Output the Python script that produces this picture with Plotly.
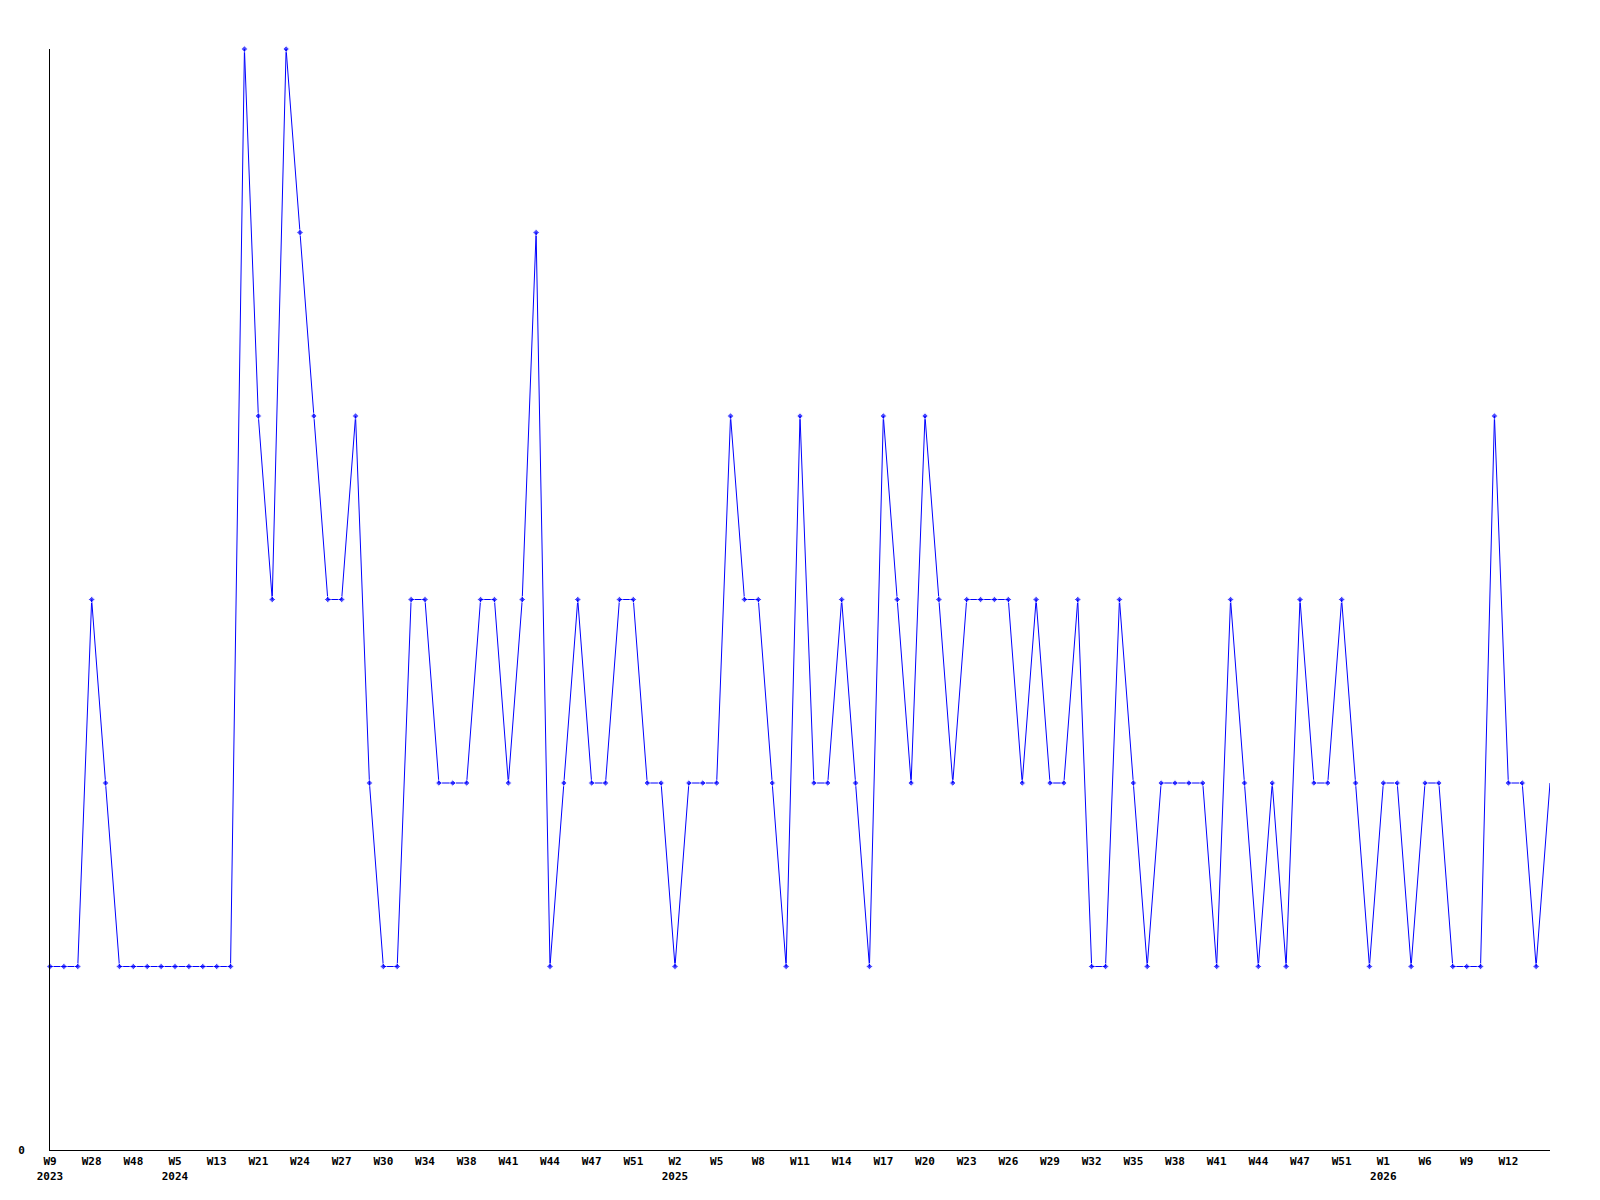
import plotly.graph_objects as go

# -- Weekly counts, one value per week (in order) --
counts = [
    1, 1, 1, 3, 2, 1, 1, 1, 1, 1,
    1, 1, 1, 1, 6, 4, 3, 6, 5, 4,
    3, 3, 4, 2, 1, 1, 3, 3, 2, 2,
    2, 3, 3, 2, 3, 5, 1, 2, 3, 2,
    2, 3, 3, 2, 2, 1, 2, 2, 2, 4,
    3, 3, 2, 1, 4, 2, 2, 3, 2, 1,
    4, 3, 2, 4, 3, 2, 3, 3, 3, 3,
    2, 3, 2, 2, 3, 1, 1, 3, 2, 1,
    2, 2, 2, 2, 1, 3, 2, 1, 2, 1,
    3, 2, 2, 3, 2, 1, 2, 2, 1, 2,
    2, 1, 1, 1, 4, 2, 2, 1, 2,
]

# -- Every third week gets a label --
tick_labels = [
    "W9<br>2023", "W28", "W48", "W5<br>2024", "W13", "W21", "W24", "W27",
    "W30", "W34", "W38", "W41", "W44", "W47", "W51", "W2<br>2025", "W5",
    "W8", "W11", "W14", "W17", "W20", "W23", "W26", "W29", "W32", "W35",
    "W38", "W41", "W44", "W47", "W51", "W1<br>2026", "W6", "W9", "W12",
]
TICK_STEP = 3

x_idx = list(range(len(counts)))
tick_pos = x_idx[::TICK_STEP][: len(tick_labels)]

LINE_COLOR = "#0000ff"
TICK_FONT = dict(family="DejaVu Sans Mono", size=11, color="black", weight="bold")

# last point is drawn without a marker (line runs off the edge)
marker_sizes = [5] * (len(counts) - 1) + [0]

fig = go.Figure(
    go.Scatter(
        x=x_idx,
        y=counts,
        mode="lines+markers",
        line=dict(color=LINE_COLOR, width=1),
        marker=dict(symbol="diamond", size=marker_sizes, color=LINE_COLOR),
        cliponaxis=False,
        hoverinfo="skip",
    )
)

fig.update_xaxes(
    range=[0, len(counts) - 1],
    tickvals=tick_pos,
    ticktext=tick_labels,
    tickfont=TICK_FONT,
    ticks="",
    ticklabelstandoff=1,
    showline=True,
    linecolor="black",
    linewidth=1,
    showgrid=False,
    zeroline=False,
)

fig.update_yaxes(
    range=[0, 6],
    tickvals=[0],
    ticktext=["0"],
    tickfont=TICK_FONT,
    ticks="",
    ticklabelstandoff=22,
    showline=True,
    linecolor="black",
    linewidth=1,
    showgrid=False,
    zeroline=False,
)

fig.update_layout(
    width=1600,
    height=1200,
    margin=dict(l=50, r=50, t=49, b=50),
    paper_bgcolor="white",
    plot_bgcolor="white",
    showlegend=False,
)

fig.write_html(
    "out.html",
    config={"displayModeBar": False},
    post_script="document.body.style.margin='0';",
)
